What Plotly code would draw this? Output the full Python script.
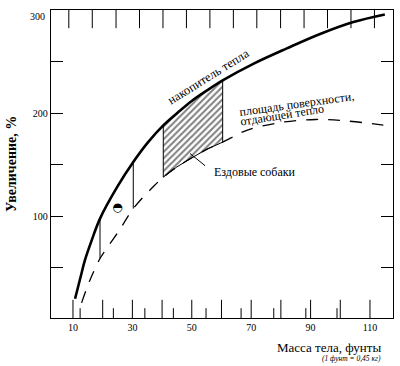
import plotly.graph_objects as go

# ---- data ----
# heat store curve (solid)
solid_x = [10.7, 12.9, 14.0, 16.3, 19.1, 25.0, 30.3, 35.3, 40.4, 46.0, 50.0, 55.0, 60.4, 70.7, 82.0, 93.2, 104.4, 115.0]
solid_y = [20.0, 45.0, 57.3, 76.7, 97.8, 129.0, 152.7, 172.0, 188.3, 202.5, 212.0, 222.0, 232.0, 248.0, 263.0, 277.0, 288.6, 296.0]
# heat-losing surface curve (dashed)
dash_x = [12.9, 15.7, 19.1, 20.2, 25.5, 30.3, 37.8, 40.4, 45.0, 50.5, 55.0, 60.4, 68.5, 79.7, 91.7, 102.4, 114.5]
dash_y = [16.0, 38.0, 59.0, 64.0, 86.0, 107.5, 131.0, 138.0, 148.0, 157.6, 165.0, 172.0, 183.5, 191.0, 194.0, 192.5, 188.5]
# vertical connectors and hatched span
vline_x = [19.1, 30.3]
hatch_span = [40.4, 60.4]
# single point (half-filled circle)
point_x = [25.0]
point_y = [108.4]

x_major = [10, 20, 30, 40, 50, 60, 70, 80, 90, 100, 110]
x_major_text = ["10", "", "30", "", "50", "", "70", "", "90", "", "110"]
x_minor = [12.4, 23.6, 34.2, 43.8, 54.8, 66.6, 77.6, 88.4, 98.9]
x_top = [8.6, 16.5, 24.5, 32.4, 40.3, 48.2, 56.1, 64.0, 71.9, 79.9, 87.8, 95.7, 103.6, 111.5]
y_ticks = [50, 100, 150, 200, 250, 300]
y_ticks_text = ["", "100", "", "200", "", ""]
y_top_label = "300"

X_RANGE = [2.6, 117.75]
Y_RANGE = [1.3, 300.3]
SERIF = "Liberation Serif"

fig = go.Figure()

# hatched region between the curves
lo, hi = hatch_span
hx_top = [x for x in solid_x if lo <= x <= hi]
hy_top = [y for x, y in zip(solid_x, solid_y) if lo <= x <= hi]
hx_bot = [x for x in dash_x if lo <= x <= hi][::-1]
hy_bot = [y for x, y in zip(dash_x, dash_y) if lo <= x <= hi][::-1]
fig.add_trace(go.Scatter(
    x=hx_top + hx_bot + [hx_top[0]], y=hy_top + hy_bot + [hy_top[0]],
    mode="lines", fill="toself", fillcolor="white",
    fillpattern=dict(shape="/", fgcolor="black", bgcolor="white", size=4.5, solidity=0.45),
    line=dict(color="black", width=1), hoverinfo="skip", showlegend=False))

# vertical connectors
for vx in vline_x:
    top = solid_y[solid_x.index(vx)]
    bot = dash_y[dash_x.index(vx)]
    fig.add_trace(go.Scatter(x=[vx, vx], y=[top, bot], mode="lines",
                             line=dict(color="black", width=1), showlegend=False))

# dashed curve
fig.add_trace(go.Scatter(x=dash_x, y=dash_y, mode="lines",
                         line=dict(color="black", width=1.3, dash="12px,10px", shape="spline"),
                         showlegend=False))
# solid curve
fig.add_trace(go.Scatter(x=solid_x, y=solid_y, mode="lines",
                         line=dict(color="black", width=2.6, shape="spline"),
                         showlegend=False))
# half filled circle
fig.add_trace(go.Scatter(x=point_x, y=point_y, mode="text", text=["\u25D3"],
                         textfont=dict(family="DejaVu Sans", size=12, color="black"),
                         showlegend=False))


def edge_ticks(xs, y_edge, length):
    # vertical line markers centred on the frame edge; the plot-area clip keeps the inner half
    return go.Scatter(x=xs, y=[y_edge] * len(xs), mode="markers",
                      marker=dict(symbol="line-ns", size=2 * length, color="black",
                                  line=dict(color="black", width=1)),
                      cliponaxis=True, hoverinfo="skip", showlegend=False)


fig.add_trace(edge_ticks(x_top, Y_RANGE[1], 13))     # top edge ticks
fig.add_trace(edge_ticks(x_major, Y_RANGE[0], 13))   # bottom major ticks (lb)
fig.add_trace(edge_ticks(x_minor, Y_RANGE[0], 7))    # bottom short ticks (kg)

fig.update_layout(
    width=400, height=366,
    margin=dict(l=51, r=7, t=10, b=48, autoexpand=False),
    paper_bgcolor="white", plot_bgcolor="rgba(0,0,0,0)",
    font=dict(family=SERIF, size=10, color="black"),
    showlegend=False,
    xaxis=dict(range=X_RANGE, tickmode="array", tickvals=x_major, ticktext=x_major_text,
               ticks="", showline=True, linecolor="black", linewidth=1.3, mirror=True,
               showgrid=False, zeroline=False, automargin=False,
               tickfont=dict(family=SERIF, size=10)),
    yaxis=dict(range=Y_RANGE, tickmode="array", tickvals=y_ticks, ticktext=y_ticks_text,
               ticks="inside", ticklen=12, tickwidth=1, tickcolor="black",
               showline=True, linecolor="black", linewidth=1.3, mirror="ticks",
               showgrid=False, zeroline=False, automargin=False,
               tickfont=dict(family=SERIF, size=10)),
)

ann = []
ann.append(dict(x=0, y=300, xref="paper", yref="y", text=y_top_label, showarrow=False,
                xanchor="right", yanchor="middle", xshift=-4, yshift=-6,
                font=dict(family=SERIF, size=10)))
ann.append(dict(x=55.5, y=235.2, xref="x", yref="y", text="накопитель тепла", showarrow=False,
                textangle=-32, font=dict(family=SERIF, size=12.5)))
ann.append(dict(x=85.3, y=209.0, xref="x", yref="y", text="площадь поверхности,", showarrow=False,
                textangle=-8, font=dict(family=SERIF, size=12)))
ann.append(dict(x=80.5, y=198.0, xref="x", yref="y", text="отдающей тепло", showarrow=False,
                textangle=-9, font=dict(family=SERIF, size=12)))
ann.append(dict(x=71.3, y=143.0, xref="x", yref="y", text="Ездовые собаки", showarrow=False,
                font=dict(family=SERIF, size=12)))
# pointer line to hatched area
ann.append(dict(x=49.4, y=161.0, xref="x", yref="y", ax=55.0, ay=147.9, axref="x", ayref="y",
                text="", showarrow=True, arrowhead=0, arrowwidth=1, arrowcolor="black"))
# axis titles
ann.append(dict(x=-0.117, y=0.5, xref="paper", yref="paper", text="<b>Увеличение, %</b>",
                showarrow=False, textangle=-90, xanchor="center", yanchor="middle",
                font=dict(family=SERIF, size=14)))
ann.append(dict(x=0.971, y=-0.0974, xref="paper", yref="paper", text="Масса тела, фунты",
                showarrow=False, xanchor="right", yanchor="middle",
                font=dict(family=SERIF, size=13)))
ann.append(dict(x=0.971, y=-0.131, xref="paper", yref="paper", text="<i>(1 фунт = 0,45 кг)</i>",
                showarrow=False, xanchor="right", yanchor="middle",
                font=dict(family=SERIF, size=7.5)))
fig.update_layout(annotations=ann)

# remove the browser's default 8px page margin so the figure fills the window
fig.write_html("out.html", config={"displayModeBar": False},
               post_script="document.body.style.margin='0';")
